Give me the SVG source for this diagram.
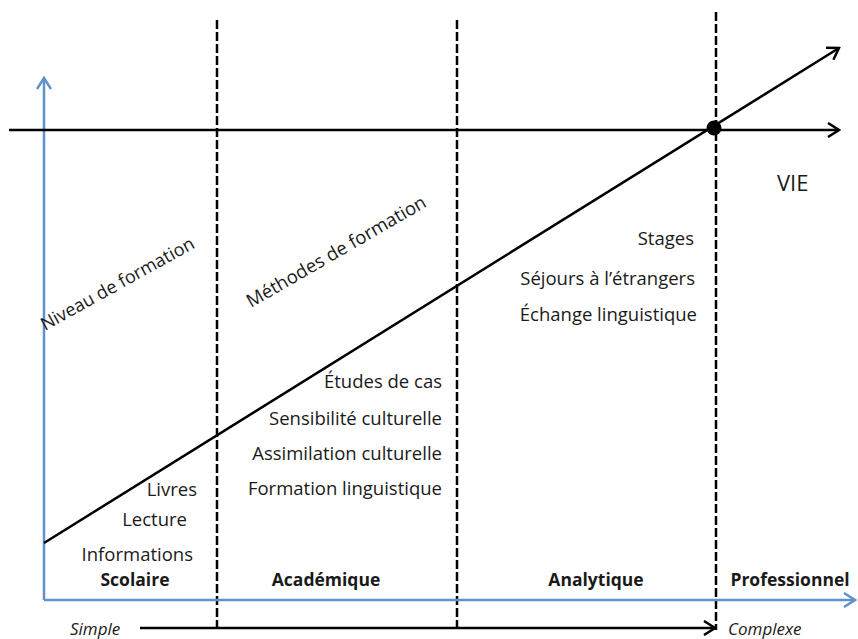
<svg xmlns="http://www.w3.org/2000/svg" width="858" height="639" viewBox="0 0 858 639">
<style>
text{font-family:"Open Sans","Noto Sans","Liberation Sans",sans-serif;fill:#1a1a1a;font-size:18.5px}
.b{font-weight:bold;font-size:17.5px}
.i{font-style:italic;font-size:17px}
.r{text-anchor:end}
.dash{stroke:#000;stroke-width:2.5;stroke-dasharray:9 3;fill:none}
.blk{stroke:#000;stroke-width:2.5;fill:none}
.blue{stroke:#5f92cc;stroke-width:2.5;fill:none}
</style>
<defs>
<marker id="ab" markerWidth="14" markerHeight="16" refX="12" refY="8" orient="auto" markerUnits="userSpaceOnUse">
<path d="M1,1 L12,8 L1,15" fill="none" stroke="#000" stroke-width="2.5"/>
</marker>
<marker id="au" markerWidth="14" markerHeight="16" refX="12" refY="8" orient="auto" markerUnits="userSpaceOnUse">
<path d="M1,1 L12,8 L1,15" fill="none" stroke="#5f92cc" stroke-width="2.5"/>
</marker>
</defs>
<g id="connectors">
<line class="dash" x1="217" y1="20" x2="217" y2="630"/>
<line class="dash" x1="457" y1="20" x2="457" y2="630"/>
<line class="dash" x1="716" y1="12" x2="716" y2="630"/>
<line class="blue" x1="44" y1="600" x2="44" y2="78" marker-end="url(#au)"/>
<line class="blue" x1="44" y1="600" x2="855" y2="600" marker-end="url(#au)"/>
<line class="blk" x1="9" y1="130" x2="839" y2="130" marker-end="url(#ab)"/>
<line class="blk" x1="44" y1="543" x2="839" y2="48" marker-end="url(#ab)"/>
<line class="blk" x1="140" y1="628" x2="715" y2="628" marker-end="url(#ab)"/>
<circle cx="714" cy="128" r="7.5" fill="#000"/>
</g>
<g id="vie"><text x="777" y="191" style="font-size:22px">VIE</text></g>
<g id="niveau"><text transform="translate(45,331) rotate(-29)" style="font-size:18px">Niveau de formation</text></g>
<g id="methodes"><text transform="translate(251,308) rotate(-30)" style="font-size:18.5px">Méthodes de formation</text></g>
<g id="col3">
<text class="r" x="694" y="245">Stages</text>
<text class="r" x="695" y="285">Séjours à l’étrangers</text>
<text class="r" x="697" y="321">Échange linguistique</text>
</g>
<g id="col2">
<text class="r" x="442" y="388">Études de cas</text>
<text class="r" x="442" y="425">Sensibilité culturelle</text>
<text class="r" x="442" y="460">Assimilation culturelle</text>
<text class="r" x="442" y="495">Formation linguistique</text>
</g>
<g id="col1">
<text class="r" x="197" y="496">Livres</text>
<text class="r" x="187" y="526">Lecture</text>
<text class="r" x="193" y="561">Informations</text>
</g>
<g id="labels">
<text class="b" x="135" y="586" text-anchor="middle">Scolaire</text>
<text class="b" x="326" y="586" text-anchor="middle">Académique</text>
<text class="b" x="596" y="586" text-anchor="middle">Analytique</text>
<text class="b" x="790" y="586" text-anchor="middle">Professionnel</text>
<text class="i" x="70" y="635">Simple</text>
<text class="i" x="728" y="635">Complexe</text>
</g>
</svg>
